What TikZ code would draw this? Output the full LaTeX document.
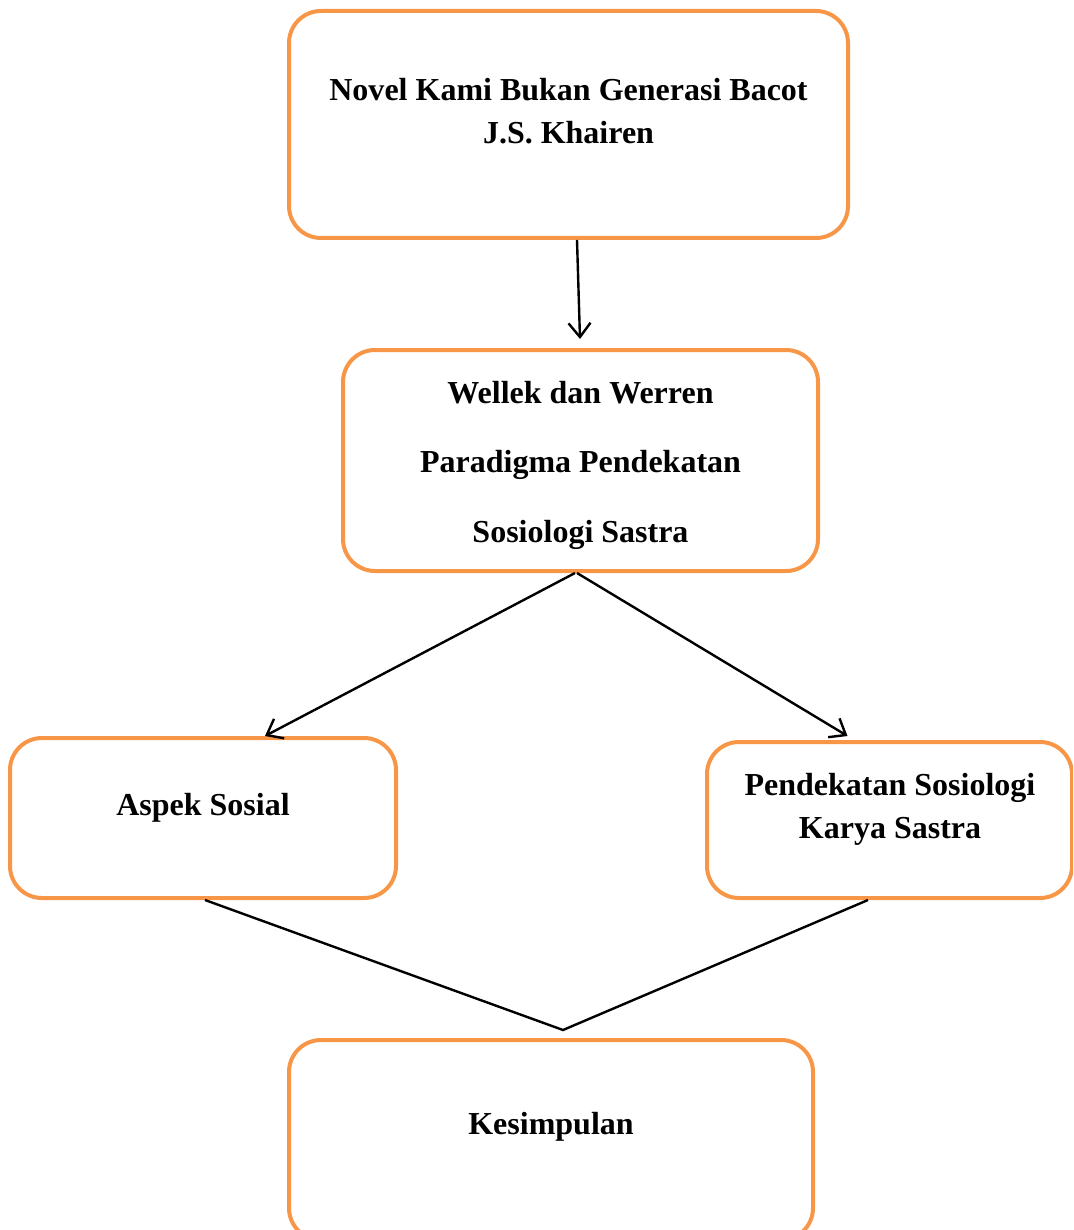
\documentclass[tikz,border=0pt]{standalone}
\usepackage{fontspec}
\setmainfont{Liberation Serif}
\usetikzlibrary{arrows.meta,calc}
\definecolor{boxorange}{HTML}{F79646}
\begin{document}
\begin{tikzpicture}[x=1pt,y=-1pt,
  box/.style={draw=boxorange,line width=4pt,rounded corners=32pt,rectangle,inner sep=0pt},
  txt/.style={font=\fontsize{32}{43}\selectfont\bfseries,align=center,inner sep=0pt},
  conn/.style={line width=2.4pt,black},
  arr/.style={conn,-{Straight Barb[length=14pt,width=22pt,line width=2.4pt]}}]
\useasboundingbox (0,0) rectangle (1073,1230);
\clip (0,0) rectangle (1073,1230);
\node[box,minimum width=559pt,minimum height=227pt] (b1) at (568.5,124.5) {};
\node[txt] (t1) at (568.5,111) {Novel Kami Bukan Generasi Bacot\\J.S. Khairen};
\node[box,minimum width=475pt,minimum height=221pt] (b2) at (580.5,460.5) {};
\node[txt,font=\fontsize{32}{69.5}\selectfont\bfseries] (t2) at (580.5,465) {Wellek dan Werren\\Paradigma Pendekatan\\Sosiologi Sastra};
\node[box,minimum width=386pt,minimum height=160pt] (b3) at (203,818) {};
\node[txt] (t3) at (203,808) {Aspek Sosial};
\node[box,minimum width=365pt,minimum height=156pt] (b4) at (889.5,820) {};
\node[txt] (t4) at (890,809) {Pendekatan Sosiologi\\Karya Sastra};
\node[box,minimum width=524pt,minimum height=200pt] (b5) at (551,1140) {};
\node[txt] (t5) at (551,1127) {Kesimpulan};
\coordinate (j) at (563,1030);
\draw[arr] ($(b1.south)+(8.5,0)$) -- ($(b2.north)+(-0.5,-9)$);
\draw[arr] ($(b2.south)+(-5.5,0)$) -- ($(b3.north)+(62,0)$);
\draw[arr] ($(b2.south)+(-3.5,0)$) -- ($(b4.north)+(-42,-4)$);
\draw[conn] ($(b3.south)+(2,0)$) -- (j) -- ($(b4.south)+(-21.5,0)$);
\end{tikzpicture}
\end{document}
